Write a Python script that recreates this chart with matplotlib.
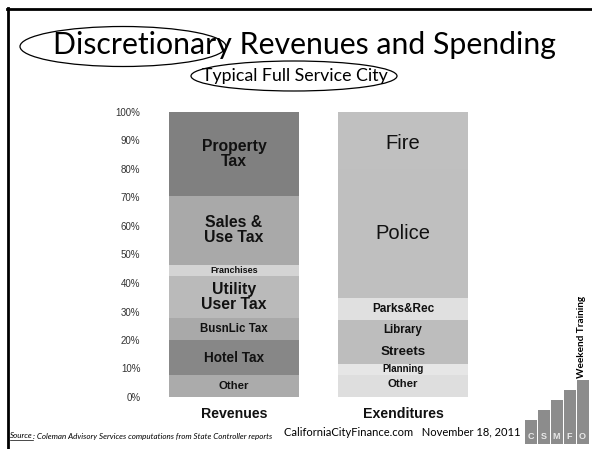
import matplotlib
matplotlib.use("Agg")
import matplotlib.pyplot as plt
from matplotlib.patches import Ellipse, Rectangle
from matplotlib.lines import Line2D
import numpy as np

# ---- data (bottom to top) ----
categories = ["Revenues", "Exenditures"]
rev_labels = ["Other", "Hotel Tax", "BusnLic Tax", "Utility\nUser Tax", "Franchises", "Sales &\nUse Tax", "Property\nTax"]
rev_values = [7.7, 12.3, 7.6, 14.7, 4.1, 24.1, 29.5]
exp_labels = ["Other", "Planning", "Streets", "Library", "Parks&Rec", "Police", "Fire"]
exp_values = [7.7, 3.9, 8.4, 7.0, 7.7, 45.3, 20.0]
ytick_vals = [0, 10, 20, 30, 40, 50, 60, 70, 80, 90, 100]

# ---- styles ----
rev_colors = ["#ababab", "#878787", "#a9a9a9", "#bababa", "#d4d4d4", "#a9a9a9", "#808080"]
exp_colors = ["#dedede", "#e6e6e6", "#bdbdbd", "#bdbdbd", "#e0e0e0", "#bfbfbf", "#c0c0c0"]
rev_fs = [8.2, 9.8, 8.3, 11.3, 6.5, 11.3, 11.3]
exp_fs = [8.2, 7.0, 9.6, 8.3, 8.5, 14.5, 14.5]
exp_w = ["bold", "bold", "bold", "bold", "bold", "normal", "normal"]
rev_dy = [0, 0, 0, 0, 0, 0, 0]
exp_dy = [0.8, 0, 0, 0, 0, 0, -1]

W, H = 592, 449
fig = plt.figure(figsize=(W / 100, H / 100), dpi=100)
fig.patch.set_facecolor("white")

def fx(x):
    return x / W

def fy(y):
    return 1 - y / H

ax_left, ax_right = 149.5, 504.4
ax_top, ax_bot = 112.0, 397.0
ax = fig.add_axes([fx(ax_left), fy(ax_bot), (ax_right - ax_left) / W, (ax_bot - ax_top) / H])
ax.set_xlim(-0.5, 1.6)
ax.set_ylim(0, 100)
for s in ax.spines.values():
    s.set_visible(False)

bw = 0.77
sans = ["Liberation Sans", "DejaVu Sans"]

def stack(xpos, values, labels, colors, sizes, weights, dys):
    bottom = 0
    for v, lab, c, fs, wt, dy in zip(values, labels, colors, sizes, weights, dys):
        ax.bar(xpos, v, bottom=bottom, width=bw, color=c, edgecolor="none", linewidth=0)
        ax.text(xpos, bottom + v / 2 + dy, lab, ha="center", va="center", fontsize=fs,
                fontweight=wt, family=sans, color="#111111", linespacing=1.0)
        bottom += v

stack(0, rev_values, rev_labels, rev_colors, rev_fs, ["bold"] * 7, rev_dy)
stack(1, exp_values, exp_labels, exp_colors, exp_fs, exp_w, exp_dy)

ax.set_yticks(ytick_vals)
ax.set_yticklabels([f"{v}%" for v in ytick_vals], family=sans, fontsize=7, color="#333333")
ax.set_xticks([0, 1])
ax.set_xticklabels(categories, family=sans, fontsize=10.2, fontweight="bold", color="#111111")
ax.tick_params(axis="y", length=0, pad=6.5)
ax.tick_params(axis="x", length=0, pad=7)

# ---- frame lines ----
fig.add_artist(Line2D([fx(7), fx(592)], [fy(9), fy(9)], transform=fig.transFigure, color="black", lw=2))
fig.add_artist(Line2D([fx(8), fx(8)], [fy(8), fy(449)], transform=fig.transFigure, color="black", lw=2))

# ---- titles ----
font_t = ["Lato", "DejaVu Sans"]
fig.text(fx(304), fy(45), "Discretionary Revenues and Spending", ha="center", va="center",
         fontsize=21.8, family=font_t, color="black")
fig.text(fx(295), fy(76), "Typical Full Service City", ha="center", va="center",
         fontsize=12.8, family=font_t, color="black")
fig.add_artist(Ellipse((fx(123), fy(46.5)), 206 / W, 40 / H, transform=fig.transFigure,
                       fill=False, edgecolor="black", lw=0.9))
fig.add_artist(Ellipse((fx(294), fy(76)), 206 / W, 30 / H, transform=fig.transFigure,
                       fill=False, edgecolor="black", lw=0.9))

# ---- footer ----
t_src = fig.text(fx(10), fy(436), "Source", ha="left", va="center", fontsize=5.8, style="italic",
                 family=font_t, color="black")
fig.canvas.draw()
bb = t_src.get_window_extent()
fig.add_artist(Line2D([bb.x0 / W, bb.x1 / W], [(bb.y0 - 0.3) / H, (bb.y0 - 0.3) / H],
                      transform=fig.transFigure, color="black", lw=0.5))
fig.text(bb.x1 / W, fy(436), ": Coleman Advisory Services computations from State Controller reports",
         ha="left", va="center", fontsize=5.8, style="italic", family=font_t, color="black")
fig.text(fx(402), fy(433), "CaliforniaCityFinance.com   November 18, 2011", ha="center", va="center",
         fontsize=8, family=font_t, color="black")
fig.text(fx(581), fy(337), "Weekend Training", ha="center", va="center", rotation=90,
         fontsize=7.2, fontweight="bold", family=font_t, color="black")

# ---- CSMFO logo ----
logo_x0 = 524
col_w = 13
tops = [420, 410, 400, 390, 380]
letters = ["C", "S", "M", "F", "O"]
for i, (tp, lt) in enumerate(zip(tops, letters)):
    x0 = logo_x0 + i * col_w
    fig.add_artist(Rectangle((fx(x0 + 0.5), fy(444)), (col_w - 1) / W, (444 - tp) / H,
                             transform=fig.transFigure, facecolor="#8c8c8c", edgecolor="none"))
    fig.text(fx(x0 + col_w / 2), fy(436.5), lt, ha="center", va="center", fontsize=6.5,
             fontweight="bold", family=sans, color="#e8e8e8")

fig.savefig("out.png", dpi=100, facecolor="white")
